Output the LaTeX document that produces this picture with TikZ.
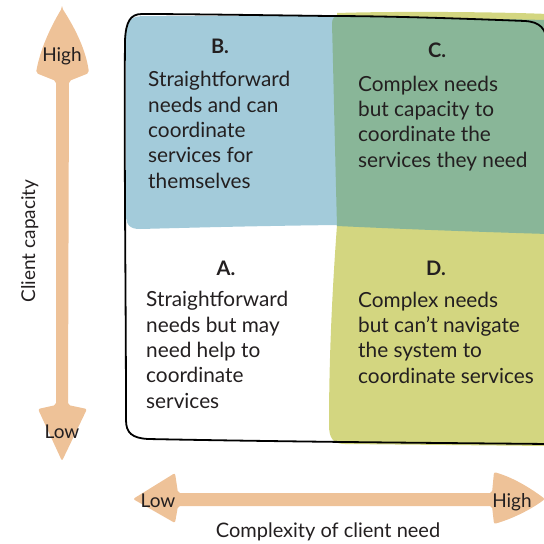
\documentclass[tikz,border=0pt]{standalone}
\usepackage{fontspec}
\setmainfont{Lato}
\definecolor{qblue}{RGB}{163,203,218}
\definecolor{qgreen}{RGB}{137,182,152}
\definecolor{qyellow}{RGB}{211,214,128}
\definecolor{peach}{RGB}{238,194,152}
\definecolor{ink}{RGB}{35,31,32}
\tikzset{
  body/.style={font=\fontsize{20.8}{25.3}\selectfont, text=ink, align=left, anchor=base west, inner sep=0pt},
  qlabel/.style={font=\fontsize{20}{24}\selectfont\bfseries, text=ink, anchor=base, inner sep=0pt},
  axislbl/.style={font=\fontsize{19}{24}\selectfont, text=ink, anchor=base, inner sep=0pt},
  frame/.style={line width=1.8pt, draw=black, line cap=round, line join=round},
}
\begin{document}
\begin{tikzpicture}[x=1pt,y=-1pt]
\useasboundingbox (0,0) rectangle (544,544);
\clip (0,0) rectangle (544,544);
% yellow (D and under C)
\fill[qyellow] (337,13) .. controls (400,11) and (500,12) .. (548,14) -- (548,446) -- (345,444)
  .. controls (333,444) and (329,438) .. (329,425) .. controls (329,350) and (333,280) .. (337,225) -- cycle;
% blue (B)
\fill[qblue] (126,30) .. controls (127,20) and (132,16) .. (145,16) -- (337,16) -- (338,225)
  .. controls (250,226) and (180,228) .. (140,229) .. controls (130,229) and (126,225) .. (126,215) -- cycle;
% green (C)
\fill[qgreen] (332,24) .. controls (332,18) and (334,16) .. (340,16) -- (548,20) -- (548,234)
  .. controls (450,231) and (380,228) .. (337,226) .. controls (335,150) and (333,60) .. (332,24) -- cycle;
% frame
\draw[frame] (548,45) .. controls (546,28) and (540,22) .. (525,21) .. controls (450,18) and (380,16) .. (330,16)
  .. controls (250,15) and (180,14) .. (142,14) .. controls (130,14) and (126,22) .. (125,40)
  .. controls (124,150) and (126,300) .. (126,420) .. controls (126,433) and (132,438) .. (148,439)
  .. controls (300,442) and (450,443) .. (548,444);
% vertical arrow
\fill[peach, rounded corners=2pt] (62,8) .. controls (75,28) and (86,50) .. (89,73) -- (69,81) -- (68,405) -- (87,409)
  -- (62,461) -- (38,409) -- (56,405) -- (56,81) -- (36,73) .. controls (40,50) and (50,28) .. (62,8) -- cycle;
% horizontal arrow
\fill[peach, rounded corners=2pt] (133,499) -- (175,473) -- (178,493) -- (492,493) -- (494,472)
  .. controls (515,478) and (533,490) .. (545,499) .. controls (533,508) and (515,518) .. (494,524)
  -- (492,506) -- (178,506) -- (175,523) -- cycle;
% quadrant labels
\node[qlabel] (labB) at (220,53) {B.};
\node[qlabel] (labC) at (437,57) {C.};
\node[qlabel] (labA) at (226,275) {A.};
\node[qlabel] (labD) at (436,275) {D.};
% texts (anchored at the baseline of their last line)
\node[body] (txtB) at (148,188) {Straightforward\\needs and can\\coordinate\\services for\\themselves};
\node[body] (txtC) at (358,167) {Complex needs\\but capacity to\\coordinate the\\services they need};
\node[body] (txtA) at (146,408) {Straightforward\\needs but may\\need help to\\coordinate\\services};
\node[body] (txtD) at (358,383) {Complex needs\\but can’t navigate\\the system to\\coordinate services};
% axis labels
\node[axislbl] (yhigh) at (62,61) {High};
\node[axislbl] (ylow) at (62,438) {Low};
\node[axislbl] (xlow) at (158,507) {Low};
\node[axislbl] (xhigh) at (512,507) {High};
\node[axislbl, font=\fontsize{20}{24}\selectfont] (xtitle) at (328,537) {Complexity of client need};
\node[axislbl, rotate=90] (ytitle) at (35,241) {Client capacity};
\end{tikzpicture}
\end{document}
